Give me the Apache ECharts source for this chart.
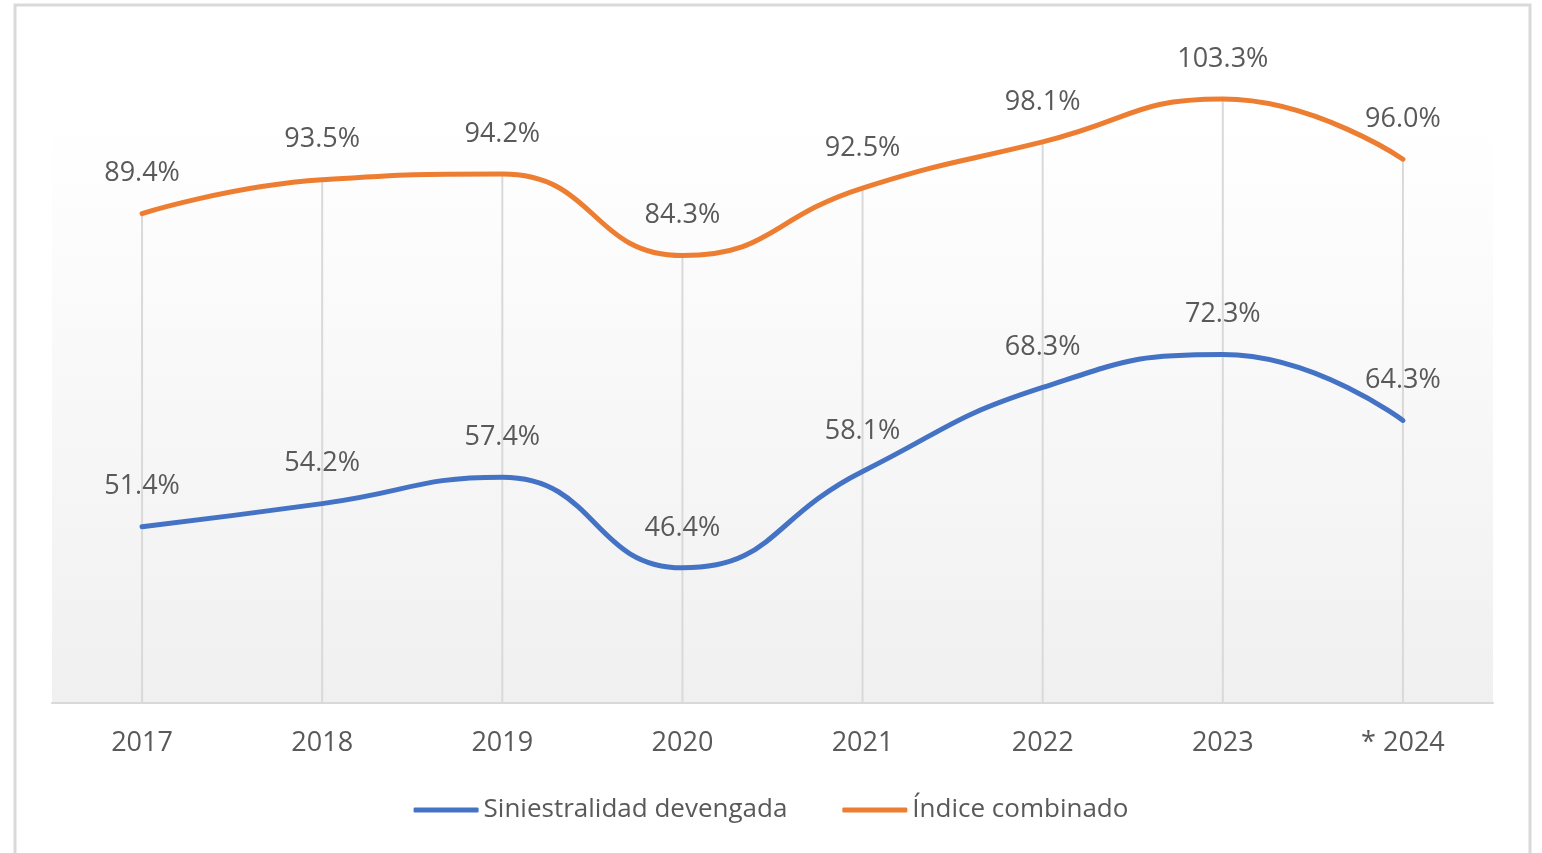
<!doctype html>
<html lang="es">
<head>
    <meta charset="UTF-8">
    <title>Siniestralidad</title>
    <style>
        html, body { margin: 0; padding: 0; background: #fff; }
        #main { width: 1542px; height: 853px; }
    </style>
</head>
<body>
    <div id="main"></div>
<script src="https://cdn.jsdelivr.net/npm/echarts@6/dist/echarts.min.js"></script>
<script type="text/javascript">
    const years = ['2017', '2018', '2019', '2020', '2021', '2022', '2023', '* 2024']
    const siniestralidad = [51.4, 54.2, 57.4, 46.4, 58.1, 68.3, 72.3, 64.3]
    const indice = [89.4, 93.5, 94.2, 84.3, 92.5, 98.1, 103.3, 96.0]
    const yMin = 30

    const myChart = echarts.init(document.getElementById('main'))
    const txt = '#595959'
    const font = '"Open Sans", sans-serif'

    const labelOpt = {
        show: true,
        position: 'top',
        distance: 26,
        color: txt,
        fontSize: 27,
        fontFamily: font,
        formatter: p => p.value.toFixed(1) + '%'
    }

    const option = {
        animation: false,
        graphic: [{
            type: 'rect',
            shape: { x: 15, y: 5, width: 1515, height: 860 },
            style: { fill: 'none', stroke: '#d9d9d9', lineWidth: 3 },
            silent: true
        }],
        grid: {
            left: 52,
            right: 49,
            top: 118,
            bottom: 150,
            show: true,
            borderWidth: 0,
            backgroundColor: {
                type: 'linear', x: 0, y: 0, x2: 0, y2: 1,
                colorStops: [
                    { offset: 0, color: '#ffffff' },
                    { offset: 1, color: '#f0f0f0' }
                ]
            }
        },
        legend: {
            bottom: 25,
            left: 'center',
            itemWidth: 65,
            itemHeight: 5,
            itemGap: 55,
            data: [
                { name: 'Siniestralidad devengada', icon: 'roundRect' },
                { name: 'Índice combinado', icon: 'roundRect' }
            ],
            textStyle: { color: txt, fontSize: 26, fontFamily: font }
        },
        xAxis: {
            type: 'category',
            data: years,
            boundaryGap: true,
            axisLine: { lineStyle: { color: '#d9d9d9', width: 2 } },
            axisTick: { show: false },
            axisLabel: { color: txt, fontSize: 27, fontFamily: font, margin: 27 },
            splitLine: { show: false }
        },
        yAxis: {
            type: 'value',
            min: yMin,
            max: 101,
            show: false,
            splitLine: { show: false }
        },
        series: [
            {
                // drop lines from the axis up to the higher series
                name: 'drop',
                type: 'custom',
                data: indice,
                silent: true,
                clip: false,
                z: 1,
                renderItem: function (params, api) {
                    const top = api.coord([api.value(0), api.value(1)])
                    const bot = api.coord([api.value(0), yMin])
                    return {
                        type: 'line',
                        shape: { x1: top[0], y1: top[1], x2: bot[0], y2: bot[1] },
                        style: { stroke: '#d9d9d9', lineWidth: 2 }
                    }
                }
            },
            {
                name: 'Siniestralidad devengada',
                type: 'line',
                data: siniestralidad,
                smooth: 0.5,
                clip: false,
                showSymbol: true,
                symbol: 'circle',
                symbolSize: 1,
                lineStyle: { color: '#4472C4', width: 5, cap: 'round' },
                itemStyle: { color: '#4472C4' },
                label: labelOpt,
                z: 3
            },
            {
                name: 'Índice combinado',
                type: 'line',
                data: indice,
                smooth: 0.5,
                clip: false,
                showSymbol: true,
                symbol: 'circle',
                symbolSize: 1,
                lineStyle: { color: '#ED7D31', width: 5, cap: 'round' },
                itemStyle: { color: '#ED7D31' },
                label: labelOpt,
                z: 3
            }
        ]
    }
    myChart.setOption(option)
</script>
</body>
</html>
